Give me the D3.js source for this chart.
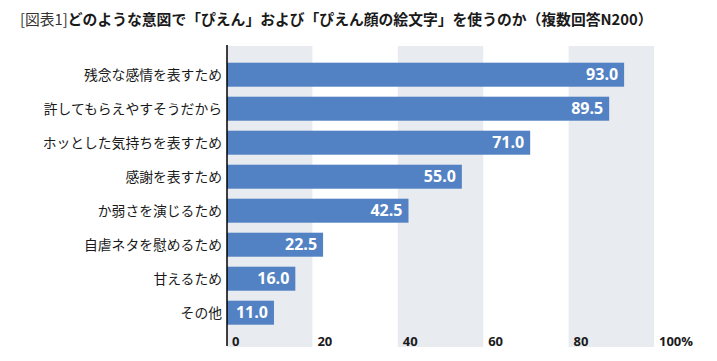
<!DOCTYPE html>
<html><head><meta charset="utf-8">
<script src="https://cdn.jsdelivr.net/npm/d3@7"></script>
<style>
html,body{margin:0;padding:0;background:#fff;}
svg{display:block;}
</style></head>
<body>
<svg id="chart" width="717" height="361"></svg>
<script>
const categories = ["残念な感情を表すため","許してもらえやすそうだから","ホッとした気持ちを表すため","感謝を表すため","か弱さを演じるため","自虐ネタを慰めるため","甘えるため","その他"];
const values = [93.0, 89.5, 71.0, 55.0, 42.5, 22.5, 16.0, 11.0];
const tickValues = [0, 20, 40, 60, 80, 100];
const tickLabels = ["0","20","40","60","80","100%"];
const bandStarts = [0, 40, 80];

const svg = d3.select("#chart");
const jp = "'Noto Sans CJK JP','Noto Sans',sans-serif";

const x = d3.scaleLinear().domain([0,100]).range([227,654]);
const y = d3.scaleBand().domain(categories).range([57.7,329.7]).paddingInner(0.294).paddingOuter(0.147);

// title
const t = svg.append("text").attr("x",20).attr("y",25)
  .attr("font-family",jp).attr("font-size",14.8).attr("fill","#1a1a1a");
t.append("tspan").attr("font-weight",400).attr("fill","#333").text("[図表1]");
t.append("tspan").attr("font-weight",700).text("どのような意図で「ぴえん」および「ぴえん顔の絵文字」を使うのか（複数回答N200）");

// gray bands
svg.append("g").selectAll("rect").data(bandStarts).join("rect")
  .attr("x",d=>x(d)).attr("width",d=>x(d+20)-x(d))
  .attr("y",46).attr("height",301)
  .attr("fill","#E8EBEF");

// bars
svg.append("g").selectAll("rect").data(values).join("rect")
  .attr("x",x(0)).attr("y",(d,i)=>y(categories[i]))
  .attr("width",d=>x(d)-x(0)).attr("height",y.bandwidth())
  .attr("fill","#5282C4");

// value labels
svg.append("g").selectAll("text").data(values).join("text")
  .attr("x",d=>x(d)-6).attr("y",(d,i)=>y(categories[i])+y.bandwidth()/2)
  .attr("dy","0.36em").attr("text-anchor","end")
  .attr("font-family","'Open Sans','Noto Sans',sans-serif").attr("font-weight",700)
  .attr("font-size",16).attr("fill","#fff")
  .text(d=>d.toFixed(1));

// category labels
svg.append("g").selectAll("text").data(categories).join("text")
  .attr("x",222).attr("y",d=>y(d)+y.bandwidth()/2)
  .attr("dy","0.36em").attr("text-anchor","end")
  .attr("font-family",jp).attr("font-size",13.8).attr("fill","#1a1a1a")
  .text(d=>d);

// axis line
svg.append("line").attr("x1",x(0)).attr("x2",x(0)).attr("y1",45).attr("y2",346)
  .attr("stroke","#000").attr("stroke-width",1.5);

// tick labels
svg.append("g").selectAll("text").data(tickValues).join("text")
  .attr("x",d=>x(d)+5).attr("y",346)
  .attr("font-family","'Open Sans','Noto Sans',sans-serif").attr("font-weight",700)
  .attr("font-size",13).attr("fill","#1a1a1a")
  .text((d,i)=>tickLabels[i]);
</script>
</body></html>
